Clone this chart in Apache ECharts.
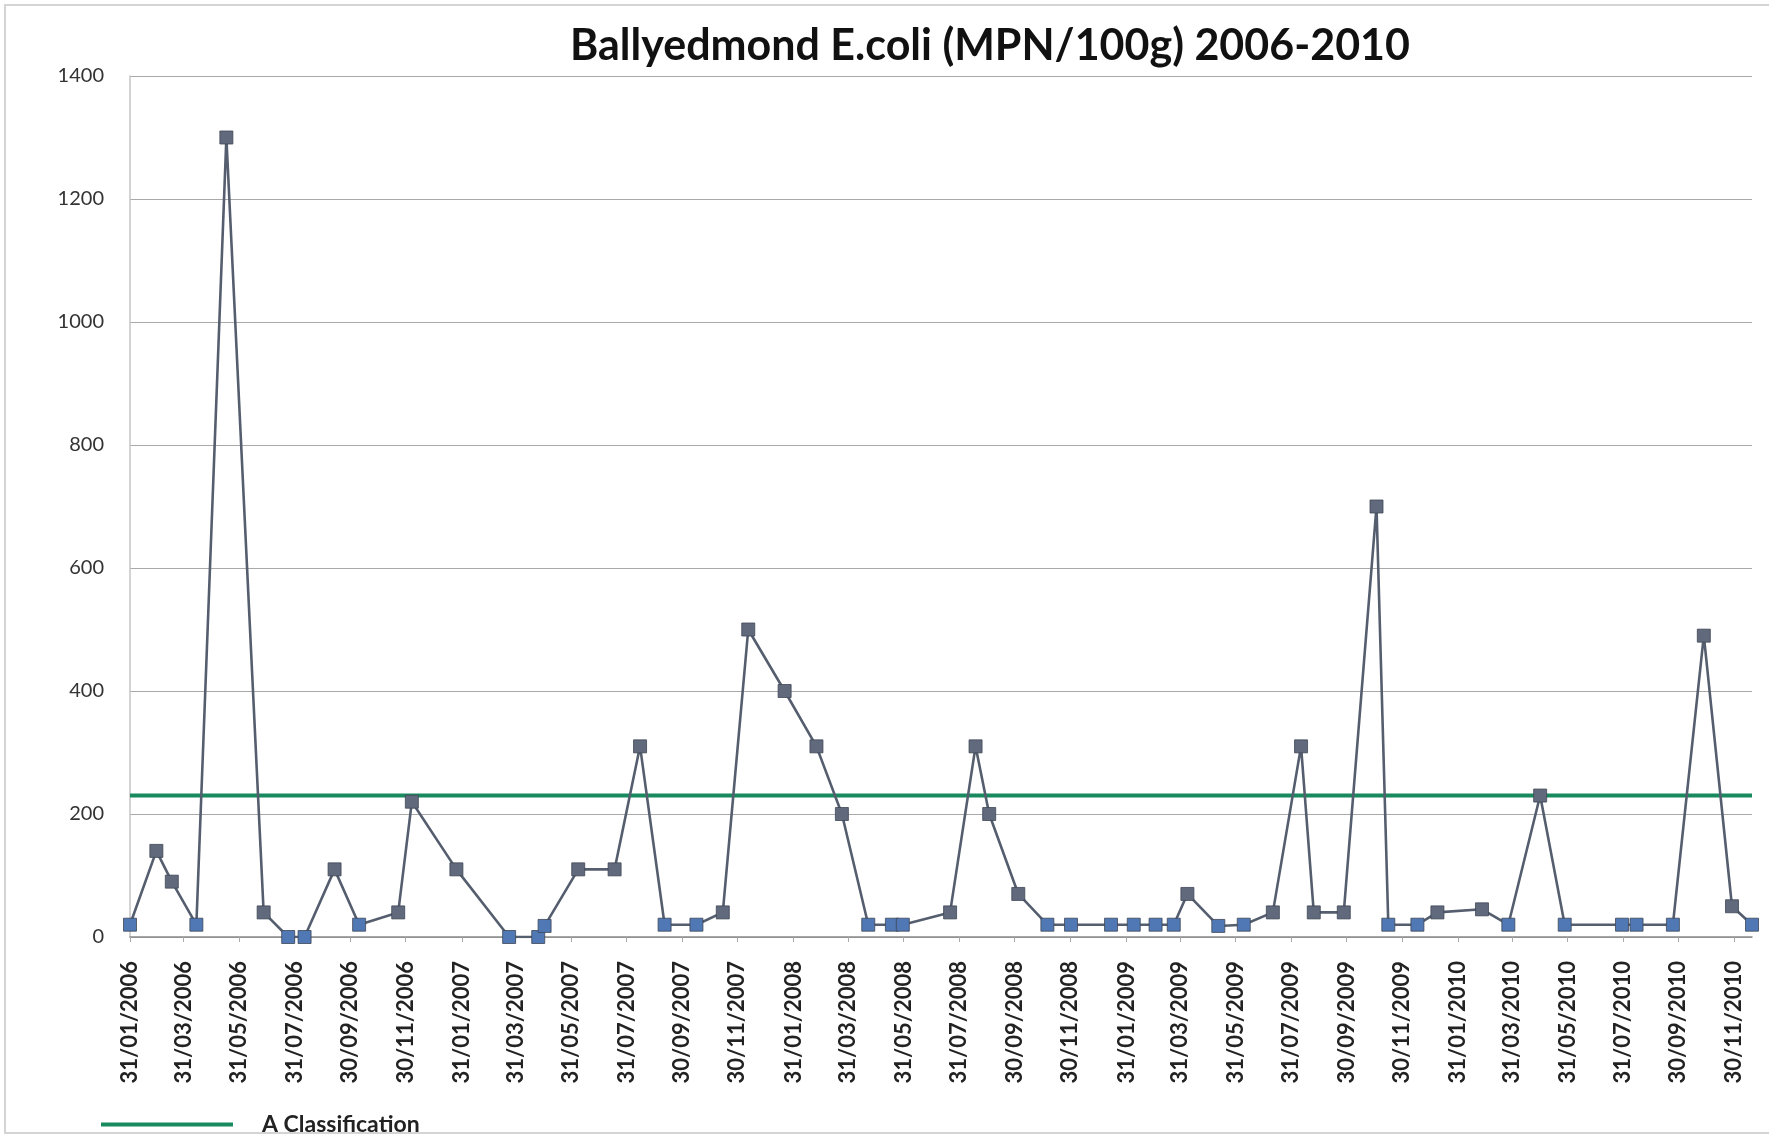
<!DOCTYPE html>
<html>
<head>
<meta charset="utf-8">
<script src="https://cdn.jsdelivr.net/npm/echarts@6/dist/echarts.min.js"></script>
<style>
html,body{margin:0;padding:0;background:#fff;}
#chart{width:1769px;height:1139px;}
</style>
</head>
<body>
<div id="chart"></div>
<script>
// Sample dates (yyyy-mm-dd) and E.coli values (MPN/100g)
const sampleDates = [
  '2006-01-31','2006-03-01','2006-03-18','2006-04-14','2006-05-17','2006-06-27','2006-07-24','2006-08-11','2006-09-13','2006-10-10','2006-11-22','2006-12-07',
  '2007-01-25','2007-03-24','2007-04-25','2007-05-02','2007-06-08','2007-07-18','2007-08-15','2007-09-11','2007-10-16','2007-11-14','2007-12-12',
  '2008-01-21','2008-02-25','2008-03-24','2008-04-22','2008-05-18','2008-05-30','2008-07-21','2008-08-18','2008-09-02','2008-10-04','2008-11-05','2008-12-01',
  '2009-01-14','2009-02-08','2009-03-04','2009-03-24','2009-04-08','2009-05-12','2009-06-09','2009-07-11','2009-08-11','2009-08-25','2009-09-27','2009-11-02','2009-11-15','2009-12-17',
  '2010-01-08','2010-02-26','2010-03-27','2010-05-01','2010-05-28','2010-07-30','2010-08-15','2010-09-24','2010-10-28','2010-11-28','2010-12-20'
];
const ecoliValues = [
  20,140,90,20,1300,40,0,0,110,20,40,220,
  110,0,0,18,110,110,310,20,20,40,500,
  400,310,200,20,20,20,40,310,200,70,20,20,
  20,20,20,20,70,18,20,40,310,40,40,700,20,20,
  40,45,20,230,20,20,20,20,490,50,20
];
const aClassificationLimit = 230;
const tickLabels = [
  '31/01/2006','31/03/2006','31/05/2006','31/07/2006','30/09/2006','30/11/2006',
  '31/01/2007','31/03/2007','31/05/2007','31/07/2007','30/09/2007','30/11/2007',
  '31/01/2008','31/03/2008','31/05/2008','31/07/2008','30/09/2008','30/11/2008',
  '31/01/2009','31/03/2009','31/05/2009','31/07/2009','30/09/2009','30/11/2009',
  '31/01/2010','31/03/2010','31/05/2010','31/07/2010','30/09/2010','30/11/2010'
];
const yTicks = [0,200,400,600,800,1000,1200,1400];
const chartTitle = 'Ballyedmond E.coli (MPN/100g) 2006-2010';
const legendName = 'A Classification';

const DAY = 86400000;
function isoToDay(s){ const p = s.split('-').map(Number); return Math.round(Date.UTC(p[0], p[1]-1, p[2]) / DAY); }
function dmyToDay(s){ const p = s.split('/').map(Number); return Math.round(Date.UTC(p[2], p[1]-1, p[0]) / DAY); }

const days = sampleDates.map(isoToDay);
const seriesData = days.map((d,i)=>[d, ecoliValues[i]]);
const dMin = days[0], dMax = days[days.length-1];
const tickDays = tickLabels.map(dmyToDay);
const labelByDay = {};
tickDays.forEach((d,i)=>{ labelByDay[d] = tickLabels[i]; });

const chart = echarts.init(document.getElementById('chart'), null, {renderer:'canvas'});
chart.setOption({
  backgroundColor:'#ffffff',
  animation:false,
  title:{
    text: chartTitle,
    left: 985, top: 20, textAlign:'center',
    textStyle:{fontFamily:'Lato', fontWeight:'bold', fontSize:43, color:'#111'}
  },
  grid:{left:130, right:17, top:76, bottom:202, containLabel:false},
  legend:{
    data:[legendName],
    left:96, top:1108, icon:'rect',
    itemWidth:132, itemHeight:4, itemGap:10,
    textStyle:{fontFamily:'Lato', fontWeight:'bold', fontSize:23, color:'#222', padding:[0,0,0,24]}
  },
  xAxis:{
    type:'value', min:dMin, max:dMax,
    axisLine:{show:true, lineStyle:{color:'#8a8a8a', width:1.5}},
    axisTick:{show:true, customValues:tickDays, length:5, lineStyle:{color:'#aaa'}},
    axisLabel:{
      customValues:tickDays, rotate:90, margin:24,
      fontFamily:'Lato', fontSize:22, color:'#222', fontWeight:'bold',
      formatter:function(v){ return labelByDay[Math.round(v)] || ''; }
    },
    splitLine:{show:false}
  },
  yAxis:{
    type:'value', min:yTicks[0], max:yTicks[yTicks.length-1], interval:200,
    axisLine:{show:true, lineStyle:{color:'#c4c4c4', width:1.5}},
    axisTick:{show:false},
    axisLabel:{margin:26, fontFamily:'Lato', fontSize:20, color:'#333',
      formatter:function(v){ return String(v); }},
    splitLine:{show:true, lineStyle:{color:'#a9a9a9', width:1.2}}
  },
  series:[
    {
      name:'E.coli', type:'line', data:seriesData,
      symbol:'rect', symbolSize:13, showSymbol:true,
      lineStyle:{color:'#555e6e', width:2.6},
      itemStyle:{color:function(p){ return p.value[1] <= 20 ? '#4f78b4' : '#616a7c'; }, borderColor:'#3f4656', borderWidth:0.8},
      z:3
    },
    {
      name:legendName, type:'line',
      data:[[dMin, aClassificationLimit],[dMax, aClassificationLimit]],
      symbol:'none',
      lineStyle:{color:'#198a5e', width:4},
      itemStyle:{color:'#198a5e'},
      z:2
    }
  ],
  graphic:[{
    type:'rect', shape:{x:5, y:5, width:1800, height:1128},
    style:{fill:'none', stroke:'#d4d4d4', lineWidth:2}, silent:true, z:-1
  }]
});
</script>
</body>
</html>
